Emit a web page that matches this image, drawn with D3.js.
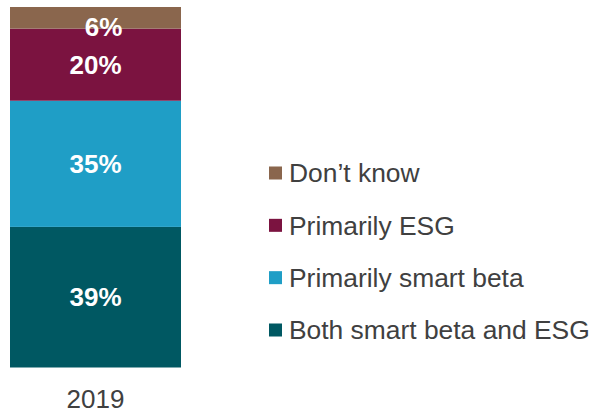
<!DOCTYPE html>
<html>
<head>
<meta charset="utf-8">
<script src="https://cdn.jsdelivr.net/npm/d3@7"></script>
<style>
  html, body { margin: 0; padding: 0; background: #ffffff; }
  svg { display: block; font-family: "Liberation Sans", Arial, sans-serif; }
</style>
</head>
<body>
<svg id="chart" width="594" height="413"></svg>
<script>
// Survey answers for 2019, stacked from the bottom up
const years = ["2019"];
const seriesNames = ["Both smart beta and ESG", "Primarily smart beta", "Primarily ESG", "Don\u2019t know"];
const seriesValues = [[39], [35], [20], [6]];
const seriesColors = ["#005862", "#1f9ec6", "#7b1340", "#8a664d"];

const svg = d3.select("#chart");

const x = d3.scaleBand().domain(years).range([10, 181]).padding(0);
const y = d3.scaleLinear().domain([0, 100]).range([367.5, 7]);

// Build stacked rows: one object per year with a field per series
const rows = years.map((yr, i) => {
  const r = { year: yr };
  seriesNames.forEach((s, j) => { r[s] = seriesValues[j][i]; });
  return r;
});
const stacked = d3.stack().keys(seriesNames)(rows);

const layers = svg.append("g").selectAll("g")
  .data(stacked)
  .join("g")
  .attr("fill", (d, i) => seriesColors[i]);

layers.selectAll("rect")
  .data(d => d)
  .join("rect")
  .attr("x", d => x(d.data.year))
  .attr("width", x.bandwidth())
  .attr("y", d => y(d[1]))
  .attr("height", d => y(d[0]) - y(d[1]));

// Value labels; thin segments get their label nudged down and right
layers.selectAll("text")
  .data(d => d.map(p => ({ p, key: d.key })))
  .join("text")
  .attr("x", ({ p }) => {
    const v = p[1] - p[0];
    return x(p.data.year) + x.bandwidth() / 2 + (v < 10 ? 8 : 0);
  })
  .attr("y", ({ p }) => {
    const v = p[1] - p[0];
    return (y(p[0]) + y(p[1])) / 2 + (v < 10 ? 9 : 0);
  })
  .attr("dy", "0.35em")
  .attr("text-anchor", "middle")
  .attr("fill", "#ffffff")
  .attr("font-weight", "bold")
  .attr("font-size", 26)
  .text(({ p }) => (p[1] - p[0]) + "%");

// Category axis below the bar
const xAxis = svg.append("g")
  .attr("transform", `translate(0,${y(0)})`)
  .call(d3.axisBottom(x).tickSize(0).tickPadding(22));
xAxis.select(".domain").remove();
xAxis.selectAll("text")
  .attr("font-size", 26)
  .attr("font-family", "Liberation Sans, Arial, sans-serif")
  .attr("fill", "#404040");

// Legend, listed top-down in the same order as the stack
const legendOrder = seriesNames.map((s, i) => ({ name: s, color: seriesColors[i] })).reverse();
const legendY = d3.scalePoint().domain(legendOrder.map(d => d.name)).range([173, 330]);

const legend = svg.append("g").selectAll("g")
  .data(legendOrder)
  .join("g")
  .attr("transform", d => `translate(269,${legendY(d.name)})`);

legend.append("rect")
  .attr("x", 0)
  .attr("y", -6.5)
  .attr("width", 13)
  .attr("height", 13)
  .attr("fill", d => d.color);

legend.append("text")
  .attr("x", 20)
  .attr("y", 0)
  .attr("dy", "0.35em")
  .attr("font-size", 26.4)
  .attr("fill", "#404040")
  .text(d => d.name);
</script>
</body>
</html>
